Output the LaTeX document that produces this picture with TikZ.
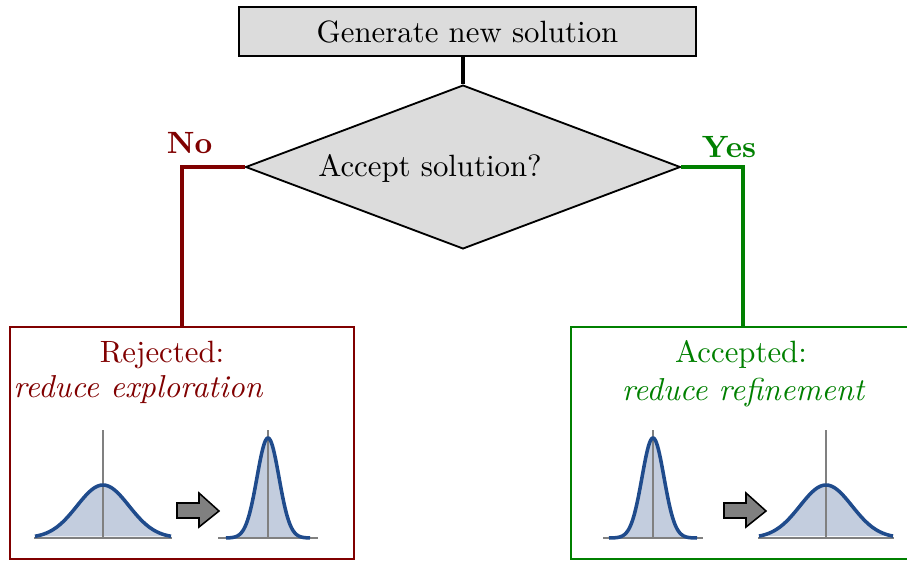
\documentclass[tikz,border=0pt]{standalone}
\usetikzlibrary{shapes.geometric}

\definecolor{boxgray}{RGB}{220,220,220}
\definecolor{nored}{RGB}{128,0,0}
\definecolor{yesgreen}{RGB}{0,128,0}
\definecolor{bellblue}{RGB}{31,75,140}
\definecolor{bellfill}{RGB}{195,205,222}
\definecolor{axisgray}{RGB}{128,128,128}

% #1 centre, #2 sigma, #3 peak, #4 curve half width, #5 axis half width
\newcommand{\bellcurve}[5]{%
  \pgfmathsetmacro\bellfrom{#1-#4}
  \pgfmathsetmacro\bellto{#1+#4}
  \fill[bellfill] plot[domain=\bellfrom:\bellto,samples=90] (\x,{538-#3*exp(-0.5*((\x-#1)/#2)^2)}) -- cycle;
  \draw[axisgray,line width=0.5pt] (#1-#5,538) -- (#1+#5,538);
  \draw[axisgray,line width=0.5pt] (#1,538) -- (#1,430);
  \draw[bellblue,line width=1.15pt] plot[domain=\bellfrom:\bellto,samples=90] (\x,{538-#3*exp(-0.5*((\x-#1)/#2)^2)});
}
\newcommand{\movearrow}[1]{%
  \filldraw[fill=axisgray,draw=black,line width=0.5pt]
    (#1,503) -- (#1+22,503) -- (#1+22,493) -- (#1+42,511) -- (#1+22,527) -- (#1+22,518) -- (#1,518) -- cycle;
}

\begin{document}
\begin{tikzpicture}[x=0.3247pt,y=-0.3247pt,
    procbox/.style={draw=black,fill=boxgray,line width=0.65pt},
    decision/.style={diamond,draw=black,fill=boxgray,line width=0.6pt,inner sep=0pt,
      minimum width=141.2pt,minimum height=53.2pt},
    outbox/.style={rectangle,line width=0.65pt,minimum width=111.7pt,minimum height=75.3pt},
    notetext/.style={anchor=base,font=\fontsize{10.3}{12}\selectfont\itshape},
    link/.style={line width=1pt}]
  \useasboundingbox (0,0) rectangle (907,563);

  \node[procbox,minimum width=148.4pt,minimum height=15.9pt] (gen) at (467.5,31.5) {Generate new solution};
  \node[decision] (decide) at (463,167) {};
  \node[anchor=base] (asktext) at (430,176) {Accept solution?};

  \node[outbox,draw=nored] (reject) at (182,443) {};
  \node[outbox,draw=yesgreen] (accept) at (743,443) {};

  \draw[link] (decide.north |- gen.south) -- (decide.north);
  \draw[link,nored] (decide.west) -| (reject.north);
  \draw[link,yesgreen] (decide.east) -| (accept.north);

  \node[anchor=base,text=nored,font=\bfseries] (nolabel) at (189.5,153) {No};
  \node[anchor=base,text=yesgreen,font=\bfseries] (yeslabel) at (729,157) {Yes};

  \node[anchor=base,text=nored] (rejtitle) at (162,362) {Rejected:};
  \node[notetext,text=nored] (rejnote) at (138,397) {reduce exploration};
  \node[anchor=base,text=yesgreen] (acctitle) at (741,362) {Accepted:};
  \node[notetext,text=yesgreen] (accnote) at (743,400) {reduce refinement};

  \bellcurve{103}{26}{53}{68}{69}
  \movearrow{177}
  \bellcurve{268}{11}{100}{42}{50}

  \bellcurve{653}{11}{100}{44}{50}
  \movearrow{724}
  \bellcurve{826}{26}{53}{67}{68}
\end{tikzpicture}
\end{document}
